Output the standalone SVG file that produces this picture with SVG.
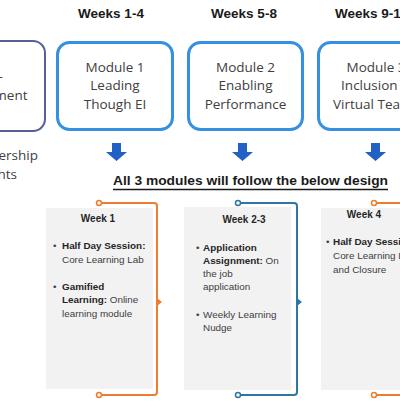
<svg xmlns="http://www.w3.org/2000/svg" width="400" height="403" viewBox="0 0 400 403">
<defs>
<style>
.wk{font-family:"Liberation Sans",Arial,sans-serif;font-weight:bold;font-size:13.5px;fill:#1a1a1a;text-anchor:middle}
.mod{font-family:"Open Sans","Liberation Sans",sans-serif;font-size:13.5px;fill:#404040;text-anchor:middle}
.side{font-family:"Open Sans","Liberation Sans",sans-serif;font-size:13.5px;fill:#404040}
.mbox{fill:#ffffff;stroke:#3590E2;stroke-width:3}
.card{fill:#F2F2F2}
.ct{font-family:"Liberation Sans",Arial,sans-serif;font-size:9.9px;fill:#404040}
.cth{font-family:"Liberation Sans",Arial,sans-serif;font-size:10px;fill:#262626;font-weight:bold;text-anchor:middle}
.b{font-weight:bold;fill:#262626}
.arr{fill:#2160C4}
.co{fill:none;stroke:#ED7D31;stroke-width:2}
.cb{fill:none;stroke:#2F77A3;stroke-width:2}
.dot-o{fill:#ffffff;stroke:#ED7D31;stroke-width:1.5}
.dot-b{fill:#ffffff;stroke:#2F77A3;stroke-width:1.5}
</style>
</defs>

<text class="wk" x="111" y="18">Weeks 1-4</text>
<text class="wk" x="244" y="18">Weeks 5-8</text>
<text class="wk" x="335" y="18" style="text-anchor:start">Weeks 9-12</text>

<g id="node-pre">
<rect x="-60" y="41" width="105" height="90" rx="12" fill="#ffffff" stroke="#55609A" stroke-width="2"/>
<text class="mod" x="-10" y="81">Pre-</text>
<text class="mod" x="-10" y="100">Assessment</text>
</g>

<g id="node-insights">
<text class="side" x="38" y="160" style="text-anchor:end">Leadership</text>
<text class="side" x="17" y="179" style="text-anchor:end">Insights</text>
</g>

<g id="node-m1">
<rect class="mbox" x="57.5" y="42.5" width="115" height="87" rx="12"/>
<text class="mod" x="115" y="71.5">Module 1</text>
<text class="mod" x="115" y="90">Leading</text>
<text class="mod" x="115" y="108.5">Though EI</text>
</g>

<g id="node-m2">
<rect class="mbox" x="188.5" y="42.5" width="114" height="87" rx="12"/>
<text class="mod" x="245.5" y="71.5">Module 2</text>
<text class="mod" x="245.5" y="90">Enabling</text>
<text class="mod" x="245.5" y="108.5">Performance</text>
</g>

<g id="node-m3">
<rect class="mbox" x="318.5" y="42.5" width="115" height="87" rx="12"/>
<text class="mod" x="376" y="71.5">Module 3</text>
<text class="mod" x="376" y="90">Inclusion &amp;</text>
<text class="mod" x="376" y="108.5">Virtual Teams</text>
</g>

<g id="arrows">
<path class="arr" d="M112,143 H121 V152 H127 L116.5,161 L106,152 H112 Z"/>
<path class="arr" d="M238,143 H247 V152 H253 L242.5,161 L232,152 H238 Z"/>
<path class="arr" d="M371,143 H380 V152 H386 L375.5,161 L365,152 H371 Z"/>
</g>

<g id="node-caption">
<text x="113" y="185" textLength="275" lengthAdjust="spacingAndGlyphs" style="font-family:'Liberation Sans',Arial,sans-serif;font-weight:bold;font-size:13px;fill:#1a1a1a">All 3 modules will follow the below design</text>
<line x1="113" y1="189.5" x2="388" y2="189.5" stroke="#1a1a1a" stroke-width="1.3"/>
</g>

<g id="node-week1">
<rect class="card" x="46" y="208" width="107" height="181"/>
<text class="cth" x="98" y="222">Week 1</text>
<text class="ct" x="53" y="249">•</text>
<text class="ct b" x="62" y="249">Half Day Session:</text>
<text class="ct" x="62" y="263">Core Learning Lab</text>
<text class="ct" x="53" y="290">•</text>
<text class="ct b" x="62" y="290">Gamified</text>
<text class="ct" x="62" y="303"><tspan class="b">Learning:</tspan> Online</text>
<text class="ct" x="62" y="317">learning module</text>
</g>

<g id="node-week23">
<rect class="card" x="184" y="207" width="107" height="183"/>
<text class="cth" x="244" y="223">Week 2-3</text>
<text class="ct" x="196" y="251">•</text>
<text class="ct b" x="203" y="251">Application</text>
<text class="ct" x="203" y="264"><tspan class="b">Assignment:</tspan> On</text>
<text class="ct" x="203" y="277">the job</text>
<text class="ct" x="203" y="290">application</text>
<text class="ct" x="196" y="318">•</text>
<text class="ct" x="203" y="318">Weekly Learning</text>
<text class="ct" x="203" y="331">Nudge</text>
</g>

<g id="node-week4">
<rect class="card" x="321" y="208" width="107" height="182"/>
<text class="cth" x="364" y="218">Week 4</text>
<text class="ct" x="326" y="245">•</text>
<text class="ct b" x="333" y="245">Half Day Session:</text>
<text class="ct" x="333" y="259">Core Learning Lab</text>
<text class="ct" x="333" y="273">and Closure</text>
</g>

<g id="connectors">
<path class="co" d="M101.5,203 H154 Q157,203 157,206 V392 Q157,395 154,395 H101.5"/>
<circle class="dot-o" cx="99" cy="203" r="2.5"/>
<circle class="dot-o" cx="99" cy="395" r="2.5"/>
<path d="M157,298 L162,302 L157,306 Z" fill="#ED7D31"/>
<path class="cb" d="M240.5,203 H294 Q297,203 297,206 V392 Q297,395 294,395 H240.5"/>
<circle class="dot-b" cx="238" cy="203" r="2.5"/>
<circle class="dot-b" cx="238" cy="395" r="2.5"/>
<path d="M297,298 L302,302 L297,306 Z" fill="#2F77A3"/>
<path class="co" d="M376.5,203 H402 M376.5,395 H402"/>
<circle class="dot-o" cx="374" cy="203" r="2.5"/>
<circle class="dot-o" cx="374" cy="395" r="2.5"/>
</g>
</svg>
